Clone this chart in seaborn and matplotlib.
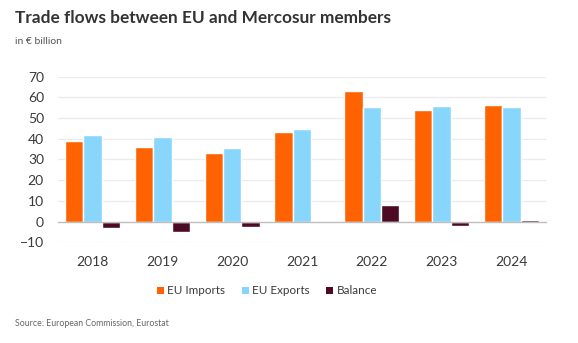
import matplotlib
matplotlib.use("Agg")
import matplotlib.pyplot as plt
import seaborn as sns
import pandas as pd
from matplotlib.patches import Patch

years = ["2018", "2019", "2020", "2021", "2022", "2023", "2024"]
eu_imports = [39.0, 36.1, 33.0, 43.5, 63.1, 53.9, 56.2]
eu_exports = [42.0, 41.1, 35.4, 44.6, 55.6, 56.0, 55.2]
balance = [-3.2, -5.0, -2.4, -0.8, 7.9, -1.9, 1.0]
series_names = ["EU Imports", "EU Exports", "Balance"]
colors = ["#FF6200", "#89D6FD", "#4D0A24"]
yticks = [-10, 0, 10, 20, 30, 40, 50, 60, 70]

df = pd.DataFrame({
    "year": years * 3,
    "series": [series_names[0]] * 7 + [series_names[1]] * 7 + [series_names[2]] * 7,
    "value": eu_imports + eu_exports + balance,
})

sns.set_theme(style="white")
plt.rcParams["font.family"] = ["Lato", "DejaVu Sans"]

fig = plt.figure(figsize=(5.78, 3.43), dpi=100)
ax = fig.add_axes([0.100, 0.2936, 0.845, 0.4828])

sns.barplot(data=df, x="year", y="value", hue="series", order=years,
            hue_order=series_names, palette=colors, width=0.79, gap=0,
            saturation=1, ax=ax, legend=False, errorbar=None)

ax.set_ylim(-10, 70)
ax.set_xlim(-0.5, 6.5)
ax.set_yticks(yticks)
for y in yticks:
    if y != 0:
        ax.axhline(y, color="#EBEBEB", lw=0.9, zorder=0)

for s in ["top", "right", "left"]:
    ax.spines[s].set_visible(False)
ax.spines["bottom"].set_position(("data", 0))
ax.spines["bottom"].set_color("#BDBDBD")
ax.spines["bottom"].set_linewidth(1.0)
ax.spines["bottom"].set_zorder(3)

ax.set_xticks([i - 0.5 for i in range(8)], minor=True)
ax.tick_params(axis="x", which="minor", length=3.5, width=0.8, color="#BDBDBD", direction="out")
ax.tick_params(axis="x", which="major", length=0, pad=25, labelsize=10, labelcolor="#3A3A3A")
ax.tick_params(axis="y", length=0, pad=10, labelsize=10, labelcolor="#3A3A3A")
ax.set_xlabel("")
ax.set_ylabel("")

fig.text(0.026, 0.947, "Trade flows between EU and Mercosur members", fontsize=12.4,
         fontweight="bold", color="#333333", va="center", ha="left")
fig.text(0.026, 0.880, "in € billion", fontsize=7.5, color="#555555", va="center", ha="left")
fig.text(0.026, 0.058, "Source: European Commission, Eurostat", fontsize=6.3,
         color="#666666", va="center", ha="left")

handles = [Patch(facecolor=c, edgecolor="none") for c in colors]
fig.legend(handles, series_names, loc="center", bbox_to_anchor=(0.462, 0.152), ncol=3,
           frameon=False, fontsize=8.4, handlelength=0.6, handleheight=0.6,
           handletextpad=0.3, columnspacing=1.4, labelcolor="#3A3A3A")

fig.savefig("out.png", dpi=100)
